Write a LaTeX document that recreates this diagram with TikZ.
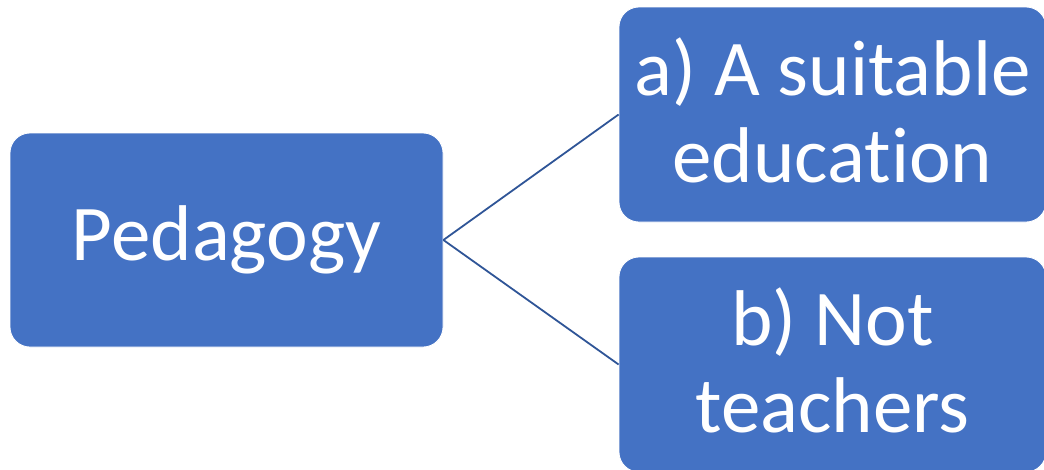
\documentclass[tikz,border=0pt]{standalone}
\usepackage{fontspec}
\setmainfont{Carlito}[Ligatures=NoCommon]
\definecolor{boxblue}{HTML}{4472C4}
\definecolor{linkblue}{HTML}{2F5597}
\begin{document}
\begin{tikzpicture}[x=1pt,y=-1pt,
  card/.style={rectangle, rounded corners=20pt, fill=boxblue, draw=white, line width=0.8pt,
    text=white, align=center, inner sep=0pt, font=\fontsize{79}{87}\selectfont},
  subcard/.style={card, minimum width=427pt, minimum height=215pt, text depth=9pt},
  link/.style={draw=linkblue, line width=1.8pt}]
  \useasboundingbox (0,0) rectangle (1044,469);
  \clip (0,0) rectangle (1044,469);
  \node[card, minimum width=433pt, minimum height=214pt] (ped) at (226.5,240) {Pedagogy};
  \node[subcard] (top) at (832.5,114.5) {a) A suitable\\education};
  \node[subcard] (bot) at (832.5,364.5) {b) Not\\teachers};
  \draw[link] (ped.east) -- (top.west);
  \draw[link] (ped.east) -- (bot.west);
\end{tikzpicture}
\end{document}
